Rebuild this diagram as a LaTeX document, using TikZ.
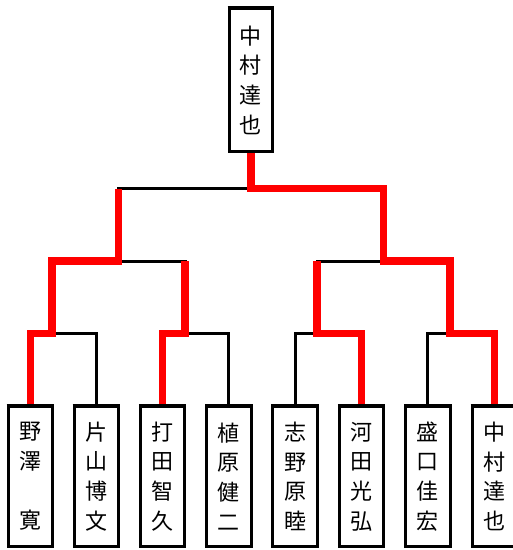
\documentclass[tikz,border=0pt]{standalone}
\usepackage{fontspec}
\newfontfamily\jp{Noto Sans CJK JP}
\begin{document}
\begin{tikzpicture}[x=1pt,y=-1pt,
  namebox/.style={draw=black,line width=3pt,fill=white,inner sep=0pt,
    minimum width=44.5pt,minimum height=140pt,align=center,
    font=\jp\fontsize{22}{29.7}\selectfont},
  topbox/.style={namebox,minimum width=43.5pt,minimum height=142.8pt},
  bracket/.style={draw=black,line width=3pt},
  winner/.style={draw=red,line width=7.5pt,line join=miter,line cap=butt}]
\useasboundingbox (0,0) rectangle (513,550);
% leaves
\node[namebox] (l1) at (30.3,476.5) {野\\澤\\　\\寛};
\node[namebox] (l2) at (96.3,476.5) {片\\山\\博\\文};
\node[namebox] (l3) at (162.6,476.5) {打\\田\\智\\久};
\node[namebox] (l4) at (228.9,476.5) {植\\原\\健\\二};
\node[namebox] (l5) at (295.2,476.5) {志\\野\\原\\睦};
\node[namebox] (l6) at (361.5,476.5) {河\\田\\光\\弘};
\node[namebox] (l7) at (427.8,476.5) {盛\\口\\佳\\宏};
\node[namebox] (l8) at (494.4,476.5) {中\\村\\達\\也};
\node[topbox] (top) at (250.75,80.1) {中\\村\\達\\也};
% match points
\coordinate (m31) at (52,333.5);
\coordinate (m32) at (185,333.5);
\coordinate (m33) at (317,333.5);
\coordinate (m34) at (450,333.5);
\coordinate (m21) at (118.5,261);
\coordinate (m22) at (383.5,261);
\coordinate (m11) at (250.75,188.5);
% black bracket
\begin{scope}[on background layer/.style={}]
\draw[bracket] (l1.north) |- (m31) -| (l2.north);
\draw[bracket] (l3.north) |- (m32) -| (l4.north);
\draw[bracket] (l5.north) |- (m33) -| (l6.north);
\draw[bracket] (l7.north) |- (m34) -| (l8.north);
\draw[bracket] (m31) |- (m21) -| (m32);
\draw[bracket] (m33) |- (m22) -| (m34);
\draw[bracket] (m21) |- (m11) -| (m22);
\draw[bracket] (m11) -- (top.south);
\end{scope}
% winner paths
\draw[winner] (l1.north) |- (m31) |- (m21) -- (m21 |- m11);
\draw[winner] (l3.north) |- (m32) -- (m32 |- m21);
\draw[winner] (l6.north) |- (m33) -- (m33 |- m22);
\draw[winner] (l8.north) |- (m34) |- (m22) |- (m11) -- (top.south);
% redraw box borders over the line ends
\foreach \n in {l1,l2,l3,l4,l5,l6,l7,l8,top}
  \draw[line width=3pt] (\n.north west) -- (\n.north east);
\end{tikzpicture}
\end{document}
